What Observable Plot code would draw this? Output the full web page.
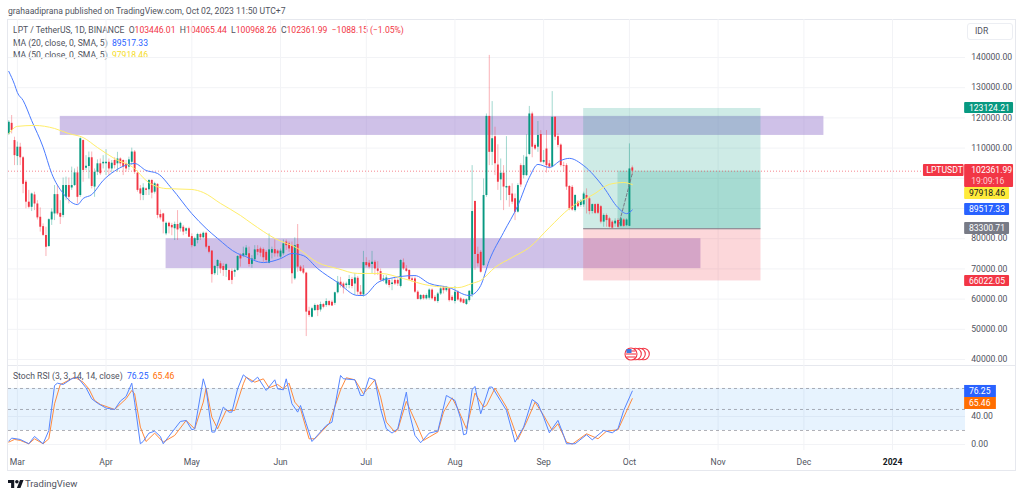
<!DOCTYPE html>
<html><head><meta charset="utf-8">
<script src="https://cdn.jsdelivr.net/npm/d3@7"></script>
<script src="https://cdn.jsdelivr.net/npm/@observablehq/plot@0.6"></script>
<style>
html,body{margin:0;padding:0;background:#fff;overflow:hidden}
#page{position:relative;width:1024px;height:497px;font-family:Roboto,sans-serif;color:#50535e}
#page>svg,#page>figure{position:absolute;margin:0}
.t{position:absolute;white-space:pre;font-size:8.6px;line-height:11px}
#frame{position:absolute;left:7px;top:19px;width:1009px;height:452px;border:1px solid #e6e8ee;box-sizing:border-box}
#sep{position:absolute;left:7px;top:365px;width:1009px;height:1px;background:#e6e8ee}
#idr{position:absolute;left:967px;top:23px;width:46px;height:17px;border:1px solid #eceef3;border-radius:3px;box-sizing:border-box;font-size:8.6px;line-height:15px;padding-left:7px}
</style></head><body><div id="page">
<div id="frame"></div><div id="sep"></div>
<div class="t" style="left:8px;top:6px">grahaadiprana published on TradingView.com, Oct 02, 2023 11:50 UTC+7</div>
<div class="t" style="left:13px;top:25px">LPT / TetherUS, 1D, BINANCE  O<span style="color:#f23645">103446.01</span>  H<span style="color:#f23645">104065.44</span>  L<span style="color:#f23645">100968.26</span>  C<span style="color:#f23645">102361.99</span>  <span style="color:#f23645">−1088.15 (−1.05%)</span></div>
<div class="t" style="left:13px;top:38px">MA (20, close, 0, SMA, 5)  <span style="color:#2962ff">89517.33</span></div>
<div class="t" style="left:13px;top:50px">MA (50, close, 0, SMA, 5)  <span style="color:#f5dc2a">97918.46</span></div>
<div id="idr">IDR</div>
<div class="t" style="left:13px;top:371px;z-index:3">Stoch RSI (3, 3, 14, 14, close)  <span style="color:#2962ff">76.25</span>  <span style="color:#ff6d00">65.46</span></div>
<div class="t" style="left:25px;top:478px;font-size:9.5px">TradingView</div>
<script>
// ---- price candles (thousands of IDR), daily from 2023-02-26
const opens=[114.7,118.2,112.5,107.2,110.3,106.8,98.7,92.1,90.4,94.5,
91.5,87.1,84,81.1,77.4,86.2,88.2,94.6,88.4,87.7,
93.7,97.6,96.8,97.6,101.8,94.3,112.5,103.3,103.9,106.8,
97.1,102,104.8,104.8,104.8,105.3,103.1,105.9,104.8,106.4,
105.9,104.8,103.7,105.3,108.7,101.7,96.5,94.3,96.5,96.2,
99.3,95.4,98,88,88.2,81.6,85.1,84.4,83.3,84.7,
83.3,83.8,82.5,83.3,80.7,77.4,79.4,81.4,80.3,81.8,
77.4,75.9,68.4,70.8,71.7,70.8,69.5,69.5,69.2,68.9,
69.5,74.4,74.2,74.4,75,71.5,73,76.4,76.6,76.4,
75.5,71.9,75.2,76.4,75.9,73.9,75,78.9,78.3,77.7,
66.7,78.1,70.6,70,68.6,56,54,56.2,57.9,56.4,
58.2,57.9,59.2,59,58.6,62.1,65.6,65,64.5,64.5,
66.5,65,66.9,62.3,61.4,72.1,71.9,71.5,72.2,70,
69.1,66.2,65,66.2,64.8,66.2,66.2,64.2,72,70,
69.5,66.7,66.7,62.3,59.9,61.2,60.1,60.3,63,60.6,
59.2,61.7,63.7,62.8,63.4,60.6,59.2,62.3,60.1,59.8,
58.2,59.5,61.5,92.3,74.8,75.5,71.1,94.3,120.5,108.6,
113.8,104.4,99.5,101.7,96.8,97.3,94.8,93.2,88.8,104.2,
100.9,100.9,107.9,121.3,110.9,110.3,114.5,105.3,109.7,104.8,
103.7,120.2,113.8,111,104.2,104.2,97.3,97,89.3,92.1,
91,91.2,94.3,93.2,89,91.3,91.3,90.6,85.5,87.7,
86.6,85.5,84.9,86,84.1,86.2,84.3,84.1,103.446];
const highs=[119.1,120.8,113.6,112,111.6,107.2,99.3,96,95.1,95.4,
92.6,90.2,84.9,83.8,86.6,89.9,97.6,97.6,92.6,100.1,
100.4,100.1,103.7,103.1,103.7,113.4,112.7,107.5,108.7,108.7,
103.1,106.1,106.4,107.5,109.5,106.4,105.9,106.8,108.6,106.8,
106.1,105.9,107,110,109.2,102,97.6,98.2,96.8,99.5,
99.5,98.7,98.2,89.5,88.4,85.5,85.5,85.1,85.5,89.3,
85.5,84.4,83.6,83.8,81.6,80.5,81.8,81.8,82.2,82.2,
77.7,76.1,71.1,73,72.5,71.7,71.7,70,70,70,
74.4,75,77.2,77.7,77.2,74.4,77.7,77.7,77.2,76.9,
76.1,81.6,77.2,79.6,76.3,76.6,79.6,79.6,78.9,78.9,
80.3,84.7,71.1,71.1,68.9,57.3,57.3,58.4,58.2,59,
58.6,60.1,59.5,59.5,62.3,67.5,67.2,65.6,65.6,67.8,
67.2,68.4,67.5,64.5,75.8,73.7,72.8,75.8,72.8,72.4,
70,67.8,67.8,66.7,66.7,67,66.7,73,73.3,71.1,
69.7,67.3,67.3,62.8,61.5,61.5,61.7,63.4,63.4,61.2,
62.2,64.2,64.2,64.2,63.7,61.2,64.2,62.8,60.6,60.1,
60.1,62.8,104.2,92.5,77.2,76.1,99.8,121.3,140.7,125.4,
116.9,111.1,106.4,104.2,113.8,97.6,98.2,94.8,98.2,104.8,
107.5,114.4,123.8,121.9,111.4,118.8,115.8,109.2,115.8,105.9,
128.7,120.4,114.7,111.4,105.3,104.8,97.6,97.6,94.6,92.6,
92.9,95.4,96.5,93.7,91.5,91.5,91.7,91,88.2,88.2,
87.1,86,86.6,86.6,87.1,86.6,86.6,111.4,104.065];
const lows=[114.2,114.7,104.2,104.2,104.2,94.9,89.9,89.9,89,89.3,
86.2,82.2,80.7,74.1,77.2,84.4,86,87.7,84.7,86.9,
92.6,91.5,96,97.3,91.5,93.7,98.7,102.6,99.8,96.5,
93.7,100.9,100.9,103.1,100.9,100.9,101.7,103.1,102,103.7,
100.9,102,102.6,104.2,101.3,95.4,92.6,92.6,94.3,94.3,
93.2,94.8,86.6,86.2,81.6,81,81.6,81,79.4,79.4,
82.2,81,81.4,80.3,77,77.2,78.3,79.4,80,76.6,
75,65.3,67.8,67.8,68.4,67.5,67.2,65.9,64.8,67.2,
69.2,70.6,73.7,74.1,70.6,70.2,72.8,74.4,73.9,72.2,
71.9,71.7,73.3,73.9,73.9,73.3,74.4,76.1,75.5,65,
66.2,68.9,68.9,68.1,47.6,54,53.8,55.9,54.2,55.7,
56.8,57.3,57.5,57.6,57.9,61.7,63.7,61.7,63.4,63.4,
63.4,61.2,61.2,60.9,60.6,70.6,70,68.4,67.8,67.8,
65.6,65.6,64.5,63.7,62.8,64.5,64.2,63.7,69.5,68.9,
66.2,65.6,61.9,59.7,59.5,59.7,59.7,59.7,59.7,59,
58.6,61.2,61.7,62.3,59,59.2,58.4,59.3,58.6,58.4,
57.9,59,60.5,69.5,70.6,68.6,70.8,93.7,104.2,104.2,
100.9,96,92.6,89.3,92.6,90.4,91.3,86,88.5,97,
99.8,100.6,107.5,106.8,109.2,108.6,105,104.8,101.7,103.1,
103.5,112.5,110.1,103.7,102,96,89.3,89.1,88.8,90.2,
90.4,90.4,88.2,87.9,88.2,88,88,84.9,83.8,83.8,
83.5,83.2,83.8,83.5,83.8,83.8,84,84,100.968];
const closes=[118.6,115.8,107.5,110.3,106.8,98,92.1,90.4,94.8,91.5,
86.9,83.8,81.1,77.2,86.3,88.8,94.6,88.2,87.1,97.6,
97.6,93.7,97.6,101.8,93.7,113.1,102.6,104,106.8,97.3,
102,104.8,101.5,105.3,105.3,103.1,105,104.2,106.4,104.8,
103.7,103.1,106.1,108.7,102,96,94.8,96.8,96,99.3,
95.1,98.2,87.7,86.9,85.5,85.1,84,83.6,84.7,82.9,
85.1,82.2,83.3,80.5,77.7,80,81.4,80.3,81.8,77.2,
75.5,68.1,70.8,72.8,70,69.5,71.4,66.2,66.2,69.5,
74.1,73.3,75,76.9,71.5,73.3,76.3,75.5,75.2,73.7,
72.8,76.3,76.4,75,75,75.9,78.3,77.7,76.6,68.4,
77.7,70.6,69.2,68.6,55.7,54.6,56.8,57.9,56.2,58.2,
57.3,59.2,57.9,57.7,62.1,65.6,64.5,63.7,65,66.5,
64.2,67,62.3,61.4,72.1,71.1,70.6,72.2,70,69.2,
66.2,66.7,67,64.5,65.3,65,65,72.8,70,69.2,
66.4,66.2,62.3,59.9,61.2,60.1,61.2,63,60.1,59.3,
61.7,63.4,62.8,63.7,59.5,59.5,62.3,59.7,59,58.6,
59.8,62.6,89,74.8,71.7,68.9,94.3,120.5,108.6,113.1,
104.8,98.7,101.7,97.1,97.3,94.3,92.1,88.8,97.6,97.8,
104.2,107,121.3,110.3,109.7,114.2,105.3,105.9,104.2,103.7,
120.2,113.6,110.9,104.2,104,97.1,89.9,89.5,94.3,90.6,
92.4,94.8,93.2,89,91.3,88.4,88.4,85.5,87.7,86,
83.8,83.5,85.8,83.8,86.6,84.1,86.2,103.1,102.362];

// ---- moving averages: day offset / value (thousands)
const ma20Days=[0,2,3,5,8,12,15,19,24,26,29,33,37,44,48,52,57,64,69,73,80,82,89,95,99,103,108,115,122,124,129,133,142,147,154,161,163,165,168,173,178,182,185,189,193,196,201,208,213,216,218];
const ma20Vals=[135.4,131.1,128.4,125.8,119.1,110.3,101.6,95,91.3,93.3,94.6,99.3,102.4,104.9,102.6,101.6,96.6,88.3,83.4,80.1,75.1,74.4,72.1,73.4,75.1,74.4,70.1,65.5,61.2,61.2,65.5,66.8,67.8,65.2,63.8,61.2,62,64.5,72.8,82.1,91,100.3,104.6,103.6,105.9,106.6,104.2,97,90.3,88.3,89.517];
const ma50Days=[0,3,9,16,21,26,31,37,44,48,55,64,68,74,81,85,93,101,108,115,122,130,138,147,157,162,165,170,176,182,189,196,205,210,215,218];
const ma50Vals=[114.8,117.2,117.5,116.5,114.8,113.5,110.2,106.5,103.2,99.3,96.6,96.3,95.3,91.7,87.7,85,80.1,76.8,72.1,70.1,68.5,68.5,66.8,64.5,63.8,65.2,66.2,70.5,73.8,77.1,83.7,90,95,98,98.6,97.918];

// ---- Stoch RSI
const kDays=[0,1,4,7,9,12,14,16,17,19,22,24,27,29,31,34,37,39,41,43,44,46,47,49,51,53,54,58,60,62,64,65,68,69,71,72,75,77,78,80,82,85,87,90,93,94,96,97,99,101,102,104,106,111,113,116,117,121,123,124,126,128,130,132,134,136,139,140,142,144,147,150,153,156,158,159,160,162,163,165,168,169,174,177,180,183,185,187,189,192,194,195,198,202,204,208,211,213,215,218];
const kVals=[4.8,9.1,7.2,1,11.5,1,20,84.3,87.6,85.7,93.8,96.2,81,65.3,59,52,50,62,68.6,87.6,60.5,1,4.3,16.2,19,11.5,1,22.4,32.9,34.3,21,22.4,93.8,79.5,17.7,17.7,53.4,46.2,46.2,79.5,99.5,89,96.2,77.2,92.4,79.5,78.1,93.8,58.1,46.2,55.7,29.6,4.3,27.2,31.9,98.6,93.9,92.4,70,70,95.3,92.4,51,22.5,16.3,22.5,74.8,46.3,13,2.5,16.3,19.1,70,62.9,36.7,13.9,15.3,78.2,82.9,43.9,82,82,48.6,3.4,24.8,64.3,58.2,39.1,16.7,34.4,13,1,1,13.9,6.7,20.1,16.7,22.5,48.6,76.25];
const dDays=[0,2,4,7,9,12,14,16,18,19,23,26,28,30,32,37,41,43,44,46,48,51,54,58,62,65,68,69,71,73,76,79,82,83,86,89,91,94,96,98,100,102,105,107,112,116,118,121,124,128,130,132,135,136,139,142,145,147,150,152,155,157,160,163,166,167,170,174,178,181,184,187,190,192,195,197,202,206,209,213,218];
const dVals=[3.4,7.2,5.8,1,8.1,1,8.1,58.1,85.7,87.6,96.2,89,79.5,62.9,57.2,50,65.3,77.2,72.4,24.8,4.3,16.2,3.4,12.9,34.3,22.4,60.5,80.5,39.1,22.4,48.6,48.6,86.7,96.2,89,93.8,81,85.7,79.5,87.6,60.5,51,8.1,8.1,29.6,78,95.3,92.4,72.4,92.4,67.7,32,17.7,21,61.5,34.4,5.8,10.6,17.7,46.3,66.7,51,22.5,73.4,53.4,55.8,80.5,53.4,7.2,32,60.5,41.5,20.1,29.6,3.4,0.5,15.3,8.2,19.1,21,65.46];

// ---- axis
const priceTicks=[40000,50000,60000,70000,80000,90000,100000,110000,120000,130000,140000];
const priceLabels=[40000,50000,60000,70000,80000,110000,120000,130000,140000];
const stochTicks=[0,40];
const stochLevels=[20,50,80];
const monthTicks=[["2023-03-01","Mar"],["2023-04-01","Apr"],["2023-05-01","May"],["2023-06-01","Jun"],["2023-07-01","Jul"],["2023-08-01","Aug"],["2023-09-01","Sep"],["2023-10-01","Oct"],["2023-11-01","Nov"],["2023-12-01","Dec"]];
const yearTick=[["2024-01-01","2024"]];

// ---- drawings
const zoneTop=[{from:18,to:285,hi:120500,lo:114200}];
const zoneLow=[{from:55,to:242,hi:80000,lo:70100}];
const entry=83300.71, target=123124.21, stop=66022.05, last=102361.99;
const posFrom=201, posTo=263, posInner=213;
const pathDays=[213.2,218], pathVals=[84400,101600];

const base=Date.UTC(2023,1,26);
const day=i=>new Date(base+i*864e5);
const xDomain=[day(-0.1),day(334.5)];
const candles=opens.map((o,i)=>({t:day(i),o:o*1e3,h:highs[i]*1e3,l:lows[i]*1e3,c:closes[i]*1e3,up:closes[i]>=o}));
const up=candles.filter(d=>d.up), dn=candles.filter(d=>!d.up);
const pts=(ds,vs,m)=>ds.map((d,i)=>({t:day(d),v:vs[i]*m}));
const GREEN="#089981",RED="#f23645",BLUE="#2962ff",YEL="#ffeb3b",ORG="#ff6d00",GRAY="#787b86",TXT="#50535e",GRID="#f2f3f6";
const tick=d=>new Date(d[0]+"T00:00:00Z");
const fs=8.6;

// tags on the price scale
const priceTags=[
 {v:123280,hi:125100,lo:121460,fill:GREEN,s:"123124.21",end:351.3},
 {v:66000,hi:67820,lo:64180,fill:RED,s:"66022.05",end:349.9},
 {v:94970,hi:96960,lo:92980,fill:YEL,s:"97918.46",end:349.9,ink:"#131722"},
 {v:89700,hi:91660,lo:87690,fill:BLUE,s:"89517.33",end:349.9},
 {v:83380,hi:85370,lo:81400,fill:GRAY,s:"83300.71",end:349.9}
];
const stochTags=[{v:75.7,hi:84.3,lo:67.1,fill:BLUE,s:"76.25"},{v:58.6,hi:67.1,lo:50,fill:ORG,s:"65.46"}];

const price=Plot.plot({
 width:1024,height:366,marginLeft:8,marginRight:59,marginTop:19,marginBottom:0,
 x:{type:"utc",domain:xDomain,axis:null},
 y:{domain:[37690,152580],axis:null},
 style:{background:"transparent",fontFamily:"Roboto,sans-serif",overflow:"visible"},
 marks:[
  Plot.ruleY(priceTicks,{stroke:GRID,strokeWidth:1}),
  Plot.ruleX(monthTicks.concat(yearTick),{x:tick,stroke:GRID,strokeWidth:1}),
  Plot.rect(zoneTop,{x1:d=>day(d.from),x2:d=>day(d.to),y1:"lo",y2:"hi",fill:"#9575cd",fillOpacity:.45}),
  Plot.rect(zoneLow,{x1:d=>day(d.from),x2:d=>day(d.to),y1:"lo",y2:"hi",fill:"#9575cd",fillOpacity:.45}),
  Plot.rect([0],{x1:day(posFrom),x2:day(posTo),y1:entry,y2:target,fill:GREEN,fillOpacity:.2}),
  Plot.rect([0],{x1:day(posFrom),x2:day(posTo),y1:stop,y2:entry,fill:RED,fillOpacity:.2}),
  Plot.rect([0],{x1:day(posInner),x2:day(posTo),y1:entry,y2:last,fill:GREEN,fillOpacity:.2}),
  Plot.ruleY([entry],{x1:day(posFrom),x2:day(posTo),stroke:GRAY,strokeWidth:1}),
  Plot.ruleY([last],{stroke:RED,strokeDasharray:"1,2",strokeOpacity:.6,strokeWidth:1}),
  Plot.ruleX(up,{x:"t",y1:"l",y2:"h",stroke:GREEN,strokeOpacity:.38,strokeWidth:1,clip:true}),
  Plot.ruleX(dn,{x:"t",y1:"l",y2:"h",stroke:RED,strokeOpacity:.38,strokeWidth:1,clip:true}),
  Plot.ruleX(up,{x:"t",y1:"o",y2:"c",stroke:GREEN,strokeWidth:1.9,clip:true}),
  Plot.ruleX(dn,{x:"t",y1:"o",y2:"c",stroke:RED,strokeWidth:1.9,clip:true}),
  Plot.line(pathDays.map((d,i)=>({t:day(d),v:pathVals[i]})),{x:"t",y:"v",stroke:GRAY,strokeDasharray:"3,2",strokeWidth:1}),
  Plot.line(pts(ma20Days,ma20Vals,1e3),{x:"t",y:"v",stroke:"#4a7bff",strokeWidth:1,curve:"monotone-x",clip:true}),
  Plot.line(pts(ma50Days,ma50Vals,1e3),{x:"t",y:"v",stroke:"#ffee6a",strokeWidth:1,curve:"monotone-x",clip:true}),
  Plot.text(priceLabels,{x:day(336.5),y:d=>d,text:d=>d3.format(".2f")(d),textAnchor:"start",fontSize:fs,fill:TXT}),
  Plot.rect(priceTags,{x1:day(334.2),x2:d=>day(d.end),y1:"lo",y2:"hi",fill:"fill",rx:1}),
  Plot.rect([0],{x1:day(334.2),x2:day(351.3),y1:96960,y2:104570,fill:RED,rx:1}),
  Plot.rect([0],{x1:day(319.8),x2:day(334),y1:100600,y2:104570,fill:RED,rx:1}),
  Plot.text(priceTags,{x:day(335.7),y:"v",text:"s",textAnchor:"start",fontSize:fs,fill:d=>d.ink||"#fff"}),
  Plot.text(["102361.99"],{x:day(336.5),y:102600,textAnchor:"start",fontSize:fs,fill:"#fff"}),
  Plot.text(["19:09:16"],{x:day(336.5),y:98940,textAnchor:"start",fontSize:fs,fill:"#ffd0d5"}),
  Plot.text(["LPTUSDT"],{x:day(320.8),y:102600,textAnchor:"start",fontSize:fs,fill:"#fff"})
 ]
});
price.style.left="0";price.style.top="0";price.style.position="absolute";
document.getElementById("page").append(price);

const stoch=Plot.plot({
 width:1024,height:105,marginLeft:8,marginRight:59,marginTop:0,marginBottom:21,
 x:{type:"utc",domain:xDomain,axis:null},
 y:{domain:[-8.6,111.4],axis:null},
 style:{background:"transparent",fontFamily:"Roboto,sans-serif",overflow:"visible"},
 marks:[
  Plot.ruleY(stochTicks,{stroke:GRID,strokeWidth:1}),
  Plot.ruleX(monthTicks.concat(yearTick),{x:tick,stroke:GRID,strokeWidth:1}),
  Plot.rect([0],{y1:20,y2:80,fill:"#2196f3",fillOpacity:.11}),
  Plot.ruleY(stochLevels,{stroke:GRAY,strokeDasharray:"3,3",strokeOpacity:.6,strokeWidth:1}),
  Plot.line(pts(dDays,dVals,1),{x:"t",y:"v",stroke:"#ff8a3d",strokeWidth:1,clip:true}),
  Plot.line(pts(kDays,kVals,1),{x:"t",y:"v",stroke:"#5585ff",strokeWidth:1,clip:true}),
  Plot.text(stochTicks,{x:day(336.5),y:d=>d,text:d=>d3.format(".2f")(d),textAnchor:"start",fontSize:fs,fill:TXT}),
  Plot.rect(stochTags,{x1:day(334.2),x2:day(345.3),y1:"lo",y2:"hi",fill:"fill"}),
  Plot.text(stochTags,{x:day(335.7),y:"v",text:"s",textAnchor:"start",fontSize:fs,fill:"#fff"}),
  Plot.text(monthTicks,{x:tick,y:-26,text:d=>d[1],fontSize:fs,fill:TXT}),
  Plot.text(yearTick,{x:tick,y:-26,text:d=>d[1],fontSize:fs,fill:"#131722",fontWeight:"bold"})
 ]
});
stoch.style.left="0";stoch.style.top="366px";stoch.style.position="absolute";
document.getElementById("page").append(stoch);
</script>
<svg style="left:622px;top:346px;z-index:3" width="32" height="16" viewBox="0 0 32 16">
 <g stroke="#f23645" stroke-width="1.1">
  <circle cx="21.5" cy="8" r="5.8" fill="#fff"/><circle cx="17.5" cy="8" r="5.8" fill="#fff"/><circle cx="13.5" cy="8" r="5.8" fill="#fff"/>
  <circle cx="9" cy="8" r="6" fill="#fff"/>
 </g>
 <g stroke="#f23645" stroke-width="1.1"><line x1="4" y1="8" x2="14" y2="8"/><line x1="4.5" y1="11" x2="13.5" y2="11"/><line x1="4.5" y1="5" x2="13.5" y2="5"/></g>
 <rect x="4.5" y="3" width="5" height="4" fill="#3d7ae0"/>
</svg>
<svg style="left:8px;top:479px" width="16" height="10" viewBox="0 0 36 20"><path fill="#131722" d="M14 19H7V8H0V1h14v18ZM28 19h-8L27 1h8l-7 18Z"/><circle cx="20" cy="5" r="4" fill="#131722"/></svg>
</div></body></html>
